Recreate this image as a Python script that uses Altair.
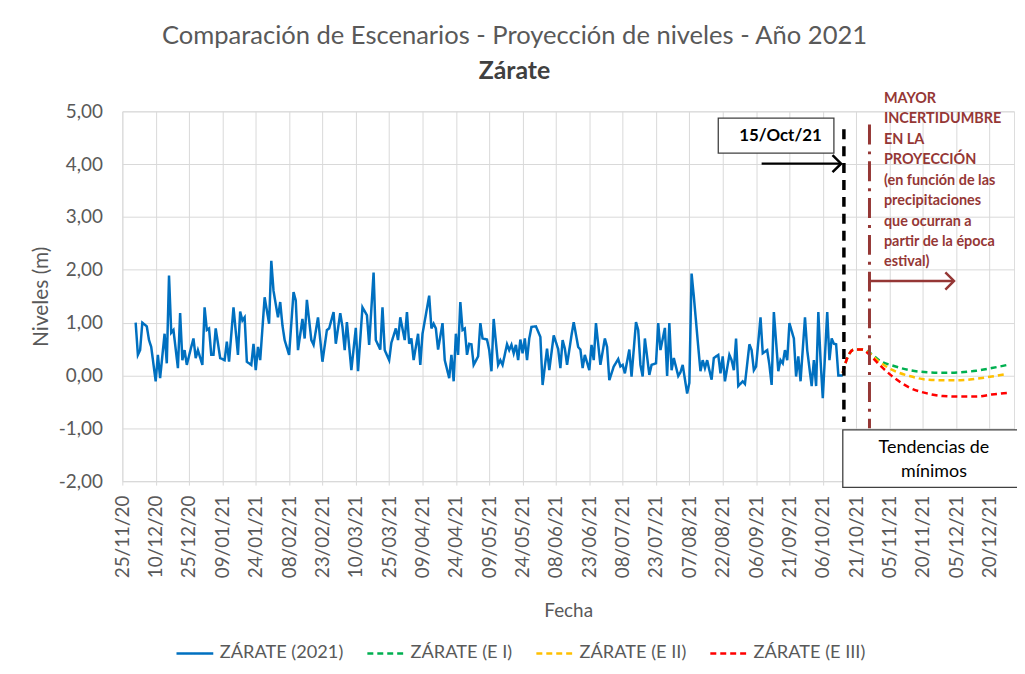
import altair as alt
import pandas as pd

# ---------------- datos ----------------
series = ["ZÁRATE (2021)", "ZÁRATE (E I)", "ZÁRATE (E II)", "ZÁRATE (E III)"]
colores = ["#0070C0", "#00B050", "#FFC000", "#FF0000"]

fechas_2021 = [
    "2020-12-01", "2020-12-02", "2020-12-03", "2020-12-04", "2020-12-06", "2020-12-07", "2020-12-08",
    "2020-12-10", "2020-12-11", "2020-12-12", "2020-12-14", "2020-12-15", "2020-12-16", "2020-12-17",
    "2020-12-18", "2020-12-20", "2020-12-21", "2020-12-22", "2020-12-23", "2020-12-24", "2020-12-26",
    "2020-12-27", "2020-12-28", "2020-12-29", "2020-12-31",
    "2021-01-01", "2021-01-02", "2021-01-03", "2021-01-04", "2021-01-05", "2021-01-06", "2021-01-08",
    "2021-01-10", "2021-01-11", "2021-01-12", "2021-01-14", "2021-01-16", "2021-01-17", "2021-01-18",
    "2021-01-19", "2021-01-20", "2021-01-22", "2021-01-23", "2021-01-24", "2021-01-25", "2021-01-26",
    "2021-01-28", "2021-01-30", "2021-01-31",
    "2021-02-01", "2021-02-03", "2021-02-04", "2021-02-05", "2021-02-06", "2021-02-08", "2021-02-10",
    "2021-02-11", "2021-02-12", "2021-02-14", "2021-02-15", "2021-02-16", "2021-02-18", "2021-02-19",
    "2021-02-21", "2021-02-23", "2021-02-25", "2021-02-26", "2021-02-28",
    "2021-03-01", "2021-03-03", "2021-03-04", "2021-03-05", "2021-03-06", "2021-03-08", "2021-03-10",
    "2021-03-11", "2021-03-13", "2021-03-15", "2021-03-16", "2021-03-18", "2021-03-19", "2021-03-21",
    "2021-03-22", "2021-03-23", "2021-03-25", "2021-03-26", "2021-03-28", "2021-03-29", "2021-03-30",
    "2021-04-01", "2021-04-02", "2021-04-03", "2021-04-04", "2021-04-05", "2021-04-07", "2021-04-08",
    "2021-04-09", "2021-04-12", "2021-04-13", "2021-04-14", "2021-04-15", "2021-04-16", "2021-04-18",
    "2021-04-19", "2021-04-21", "2021-04-22", "2021-04-23", "2021-04-24", "2021-04-25", "2021-04-26",
    "2021-04-27", "2021-04-28", "2021-04-29", "2021-04-30",
    "2021-05-01", "2021-05-02", "2021-05-04", "2021-05-05", "2021-05-06", "2021-05-08", "2021-05-09",
    "2021-05-10", "2021-05-11", "2021-05-13", "2021-05-14", "2021-05-15", "2021-05-17", "2021-05-18",
    "2021-05-19", "2021-05-20", "2021-05-21", "2021-05-22", "2021-05-23", "2021-05-24", "2021-05-25",
    "2021-05-26", "2021-05-27", "2021-05-28", "2021-05-30",
    "2021-06-01", "2021-06-02", "2021-06-04", "2021-06-05", "2021-06-07", "2021-06-09", "2021-06-10",
    "2021-06-11", "2021-06-12", "2021-06-13", "2021-06-15", "2021-06-16", "2021-06-18", "2021-06-19",
    "2021-06-20", "2021-06-21", "2021-06-23", "2021-06-24", "2021-06-25", "2021-06-26", "2021-06-28",
    "2021-06-30",
    "2021-07-01", "2021-07-02", "2021-07-04", "2021-07-06", "2021-07-07", "2021-07-08", "2021-07-09",
    "2021-07-11", "2021-07-12", "2021-07-14", "2021-07-15", "2021-07-16", "2021-07-17", "2021-07-18",
    "2021-07-20", "2021-07-21", "2021-07-23", "2021-07-24", "2021-07-25", "2021-07-27", "2021-07-28",
    "2021-07-29", "2021-07-30", "2021-07-31",
    "2021-08-02", "2021-08-03", "2021-08-04", "2021-08-06", "2021-08-07", "2021-08-08", "2021-08-09",
    "2021-08-11", "2021-08-12", "2021-08-13", "2021-08-14", "2021-08-15", "2021-08-16", "2021-08-17",
    "2021-08-18", "2021-08-20", "2021-08-21", "2021-08-22", "2021-08-23", "2021-08-25", "2021-08-26",
    "2021-08-27", "2021-08-28", "2021-08-29", "2021-08-31",
    "2021-09-01", "2021-09-03", "2021-09-04", "2021-09-05", "2021-09-06", "2021-09-08", "2021-09-09",
    "2021-09-11", "2021-09-12", "2021-09-13", "2021-09-14", "2021-09-16", "2021-09-17", "2021-09-18",
    "2021-09-19", "2021-09-20", "2021-09-21", "2021-09-23", "2021-09-24", "2021-09-25", "2021-09-26",
    "2021-09-28", "2021-09-29",
    "2021-10-01", "2021-10-02", "2021-10-03", "2021-10-04", "2021-10-05", "2021-10-06", "2021-10-08",
    "2021-10-09", "2021-10-10", "2021-10-11", "2021-10-12", "2021-10-13", "2021-10-15",
]
niveles_2021 = [
    1.00, 0.39, 0.48, 1.00, 0.93, 0.67, 0.54,
    -0.11, 0.39, -0.05, 0.79, 0.23, 1.89, 0.81,
    0.86, 0.14, 1.18, 0.29, 0.48, 0.20, 0.54,
    0.70, 0.33, 0.48, 0.20,
    1.29, 0.86, 0.89, 0.39, 0.39, 0.89, 0.33,
    0.29, 0.64, 0.26, 1.29, 0.39, 1.21, 1.04,
    1.10, 0.26, 0.20, 0.60, 0.10, 0.54, 0.29,
    1.48, 0.98, 2.17,
    1.60, 1.10, 1.39, 0.95, 0.67, 0.39, 1.58,
    1.42, 0.48, 1.07, 0.70, 1.43, 0.67, 0.58,
    1.10, 0.26, 0.86, 0.89, 1.20,
    0.60, 1.18, 0.92, 0.48, 1.01, 0.10, 0.90,
    0.08, 1.29, 1.14, 0.58, 1.95, 0.67, 0.49,
    1.29, 0.48, 0.29, 0.62, 0.89, 0.67, 1.10,
    0.67, 1.20, 0.60, 0.70, 0.29, 0.79, 0.20,
    0.79, 1.51, 0.89, 0.98, 0.89, 0.49, 0.99,
    0.29, -0.05, 0.39, -0.11, 0.79, 0.39, 1.39,
    0.86, 0.89, 0.39, 0.60,
    0.59, 0.20, 0.36, 0.99, 0.70, 0.68, 0.48,
    0.08, 1.07, 0.20, 0.29, 0.20, 0.59, 0.48,
    0.58, 0.42, 0.58, 0.29, 0.68, 0.42, 0.70,
    0.29, 0.70, 0.92, 0.93,
    0.73, -0.18, 0.51, 0.10, 0.76, 0.50, 0.14,
    0.67, 0.51, 0.20, 0.76, 1.01, 0.54, 0.49,
    0.14, 0.39, 0.10, 0.58, 0.29, 0.99, 0.20,
    0.70,
    0.54, -0.09, 0.17, 0.31, 0.17, 0.20, 0.04,
    0.49, -0.02, 1.01, 0.86, 0.20, -0.02, 0.70,
    0.01, 0.20, 0.23, 0.99, 0.48, 0.90, -0.01,
    0.99, 0.10, 0.33,
    -0.01, 0.06, 0.20, -0.34, -0.14, 1.93, 1.50,
    0.54, 0.08, 0.29, 0.14, 0.29, 0.10, -0.08,
    0.33, 0.39, 0.04, 0.36, -0.11, 0.39, 0.29,
    0.10, 0.70, -0.20, -0.11,
    -0.16, 0.59, 0.48, 0.10, 0.17, 1.10, 0.42,
    0.48, 0.20, -0.18, 1.20, 0.08, 0.29, 0.23,
    0.48, 0.29, 0.99, 0.70, -0.02, 0.36, -0.11,
    1.10, 0.48,
    -0.20, 0.29, -0.20, 1.20, 0.29, -0.43, 1.20,
    0.29, 0.70, 0.60, 0.59, 0.00, 0.00,
]

fechas_escenarios = [
    "2021-10-15", "2021-10-17", "2021-10-20", "2021-10-24", "2021-10-26", "2021-11-01", "2021-11-07",
    "2021-11-14", "2021-11-22", "2021-11-29", "2021-12-07", "2021-12-14", "2021-12-21", "2021-12-28",
]
niveles_e1 = [0.05, 0.33, 0.49, 0.49, 0.46, 0.27, 0.18, 0.10, 0.06, 0.05, 0.06, 0.09, 0.14, 0.20]
niveles_e2 = [0.05, 0.33, 0.49, 0.49, 0.45, 0.24, 0.09, -0.01, -0.08, -0.09, -0.09, -0.06, -0.02, 0.03]
niveles_e3 = [0.05, 0.33, 0.49, 0.49, 0.43, 0.18, -0.04, -0.23, -0.34, -0.39, -0.40, -0.40, -0.36, -0.33]

etiquetas_x = [
    "25/11/20", "10/12/20", "25/12/20", "09/01/21", "24/01/21", "08/02/21", "23/02/21", "10/03/21",
    "25/03/21", "09/04/21", "24/04/21", "09/05/21", "24/05/21", "08/06/21", "23/06/21", "08/07/21",
    "23/07/21", "07/08/21", "22/08/21", "06/09/21", "21/09/21", "06/10/21", "21/10/21", "05/11/21",
    "20/11/21", "05/12/21", "20/12/21",
]
valores_y = [-2, -1, 0, 1, 2, 3, 4, 5]

texto_incertidumbre = [
    "MAYOR", "INCERTIDUMBRE", "EN LA", "PROYECCIÓN", "(en función de las",
    "precipitaciones", "que ocurran a", "partir de la época", "estival)",
]
texto_tendencias = ["Tendencias de", "mínimos"]
texto_fecha_corte = "15/Oct/21"

# ---------------- tablas ----------------
obs = pd.DataFrame({"fecha": fechas_2021, "nivel": niveles_2021, "serie": series[0]})
esc = pd.concat(
    [pd.DataFrame({"fecha": fechas_escenarios, "nivel": v, "serie": s})
     for s, v in zip(series[1:], [niveles_e1, niveles_e2, niveles_e3])],
    ignore_index=True,
)


def ms(ts):
    return int(pd.Timestamp(ts, tz="UTC").value // 10**6)


ticks_x = [int(pd.Timestamp(pd.to_datetime(t, format="%d/%m/%y"), tz="UTC").value // 10**6)
           for t in etiquetas_x]

FONT = "Lato"
GRIS = "#595959"
GRID = "#D9D9D9"
MARRON = "#953735"

xscale = alt.Scale(domain=[ms("2020-11-25"), ms("2021-12-31")])
yscale = alt.Scale(domain=[-2, 5], nice=False, zero=False)
xaxis = alt.Axis(
    values=ticks_x, labelExpr="utcFormat(datum.value, '%d/%m/%y')", labelAngle=270,
    labelFont=FONT, labelFontSize=19, labelColor=GRIS, labelPadding=10,
    grid=True, gridColor=GRID, gridWidth=1, domainColor=GRID, tickColor=GRID, tickSize=4,
    titleFont=FONT, titleFontSize=19, titleFontWeight="normal", titleColor=GRIS, titlePadding=24,
)
yaxis = alt.Axis(
    values=valores_y,
    labelExpr="(datum.value < 0 ? '-' : '') + replace(format(abs(datum.value), '.2f'), '.', ',')",
    labelFont=FONT, labelFontSize=19, labelColor=GRIS, labelPadding=20,
    grid=True, gridColor=GRID, gridWidth=1, domain=False, ticks=False,
    titleFont=FONT, titleFontSize=21, titleFontWeight="normal", titleColor=GRIS, titlePadding=7,
)


def ex(c):
    return alt.X(f"{c}:T", scale=xscale, axis=xaxis, title="Fecha")


def ey(c):
    return alt.Y(f"{c}:Q", scale=yscale, axis=yaxis, title="Niveles (m)")


leyenda = alt.Legend(
    title=None, orient="none", direction="horizontal", legendX=53, legendY=525,
    symbolType="stroke", symbolSize=1369, symbolStrokeWidth=2.5, labelFont=FONT,
    labelFontSize=18.3, labelColor=GRIS, columnPadding=18, labelOffset=5, labelLimit=300,
)
color = alt.Color("serie:N", scale=alt.Scale(domain=series, range=colores), legend=leyenda)
dash = alt.StrokeDash("serie:N", scale=alt.Scale(domain=series, range=[[1, 0], [6, 4], [6, 4], [6, 4]]),
                      legend=leyenda)

linea_obs = alt.Chart(obs).mark_line(strokeWidth=2.5).encode(
    x=ex("fecha"), y=ey("nivel"), color=color, strokeDash=dash)
linea_esc = alt.Chart(esc).mark_line(strokeWidth=2.5, interpolate="monotone").encode(
    x=ex("fecha"), y=ey("nivel"), color=color, strokeDash=dash)

# ---------------- anotaciones ----------------
corte = pd.DataFrame({"fecha": ["2021-10-15T12:00:00Z"], "a": [4.66], "b": [-0.88]})
regla_corte = alt.Chart(corte).mark_rule(color="black", strokeWidth=3.5, strokeDash=[10, 7]).encode(
    x=ex("fecha"), y=ey("a"), y2="b")

incert = pd.DataFrame({"fecha": ["2021-10-27T00:00:00Z"], "a": [4.75], "b": [-1.0]})
regla_incert = alt.Chart(incert).mark_rule(color=MARRON, strokeWidth=3, strokeDash=[20, 7, 3, 7]).encode(
    x=ex("fecha"), y=ey("a"), y2="b")

flechas = pd.DataFrame({
    "f1": ["2021-09-08T12:00:00Z", "2021-10-27T00:00:00Z"],
    "f2": ["2021-10-14T06:00:00Z", "2021-12-04T00:00:00Z"],
    "n": [4.01, 1.79],
    "c": ["black", MARRON],
})
flecha_lineas = alt.Chart(flechas).mark_rule(strokeWidth=2.5).encode(
    x=ex("f1"), x2="f2", y=ey("n"), color=alt.Color("c:N", scale=None))
flecha_puntas = alt.Chart(flechas).mark_point(
    shape="M -1 -1 L 0 0 L -1 1", filled=False, size=300, strokeWidth=2.5, opacity=1).encode(
    x=ex("f2"), y=ey("n"), color=alt.Color("c:N", scale=None))

cajas = pd.DataFrame({
    "f1": ["2021-08-20", "2021-10-15"],
    "f2": ["2021-10-11", "2022-01-02"],
    "a": [4.87, -1.03],
    "b": [4.21, -2.12],
})
caja = alt.Chart(cajas).mark_rect(fill="white", stroke="#404040", strokeWidth=1.3).encode(
    x=ex("f1"), x2="f2", y=ey("a"), y2="b")

t_corte = pd.DataFrame({"fecha": ["2021-09-17"], "n": [4.53], "t": [texto_fecha_corte]})
txt_corte = alt.Chart(t_corte).mark_text(
    font=FONT, fontSize=17, fontWeight="bold", color="black", align="center", baseline="middle").encode(
    x=ex("fecha"), y=ey("n"), text="t:N")

t_tend = pd.DataFrame({"fecha": ["2021-11-25"] * 2, "n": [-1.37, -1.82], "t": texto_tendencias})
txt_tend = alt.Chart(t_tend).mark_text(
    font=FONT, fontSize=18, color="black", align="center", baseline="middle").encode(
    x=ex("fecha"), y=ey("n"), text="t:N")

t_inc = pd.DataFrame({
    "fecha": ["2021-11-02T12:00:00Z"] * len(texto_incertidumbre),
    "n": [5.23, 4.85, 4.45, 4.07, 3.68, 3.30, 2.91, 2.52, 2.15],
    "t": texto_incertidumbre,
})
txt_inc = alt.Chart(t_inc).mark_text(
    font=FONT, fontSize=14.5, fontWeight="bold", color=MARRON, align="left", baseline="middle").encode(
    x=ex("fecha"), y=ey("n"), text="t:N")

chart = alt.layer(
    linea_obs, linea_esc, regla_corte, regla_incert, flecha_lineas, flecha_puntas,
    caja, txt_corte, txt_tend, txt_inc,
).properties(
    width=897, height=372,
    padding={"left": 115, "top": 102, "right": 3, "bottom": 180},
    autosize=alt.AutoSizeParams(type="none"),
    title=alt.TitleParams(
        text="Comparación de Escenarios - Proyección de niveles - Año 2021",
        subtitle="Zárate", anchor="middle", frame="group", dx=-54,
        font=FONT, fontSize=25.7, fontWeight="normal", color=GRIS,
        subtitleFont=FONT, subtitleFontSize=25, subtitleFontWeight="bold", subtitleColor="#404040",
        offset=6, subtitlePadding=10,
    ),
).configure_view(strokeWidth=0).configure(background="white")

chart.save("out.html", embed_options={"renderer": "svg", "actions": False})
